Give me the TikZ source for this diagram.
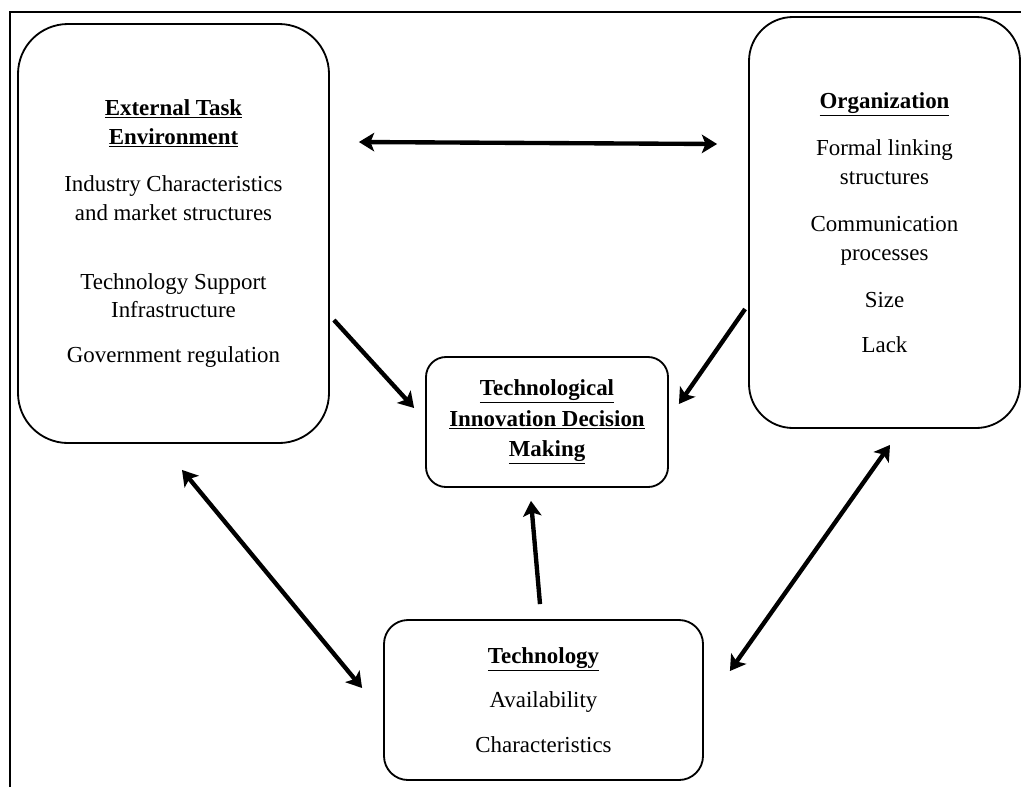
\documentclass[tikz,border=0pt]{standalone}
\usepackage{fontspec}
\setmainfont{Liberation Serif}
\usetikzlibrary{arrows.meta}

\tikzset{
  box/.style={draw, line width=1.3pt, align=center, inner sep=0pt,
    font=\fontsize{16.3}{20.6}\selectfont},
  link/.style={line width=3.1pt, -{Stealth[length=0.38cm, width=0.46cm, inset=0.09cm]}},
  dlink/.style={link, {Stealth[length=0.38cm, width=0.46cm, inset=0.09cm]}-{Stealth[length=0.38cm, width=0.46cm, inset=0.09cm]}}
}

\begin{document}
\begin{tikzpicture}
  \useasboundingbox (0cm,0cm) rectangle (25.525cm,-19.675cm);
  \draw[line width=1.3pt] (0.25cm,-19.675cm) |- (25.525cm,-0.3cm);

  \node[box, rounded corners=1.25cm, minimum width=7.775cm, minimum height=10.475cm] (ext) at (4.3375cm,-5.8375cm)
    {\underline{\textbf{External Task}}\\
     \underline{\textbf{Environment}}\\[13pt]
     Industry Characteristics\\
     and market structures\\[28pt]
     Technology Support\\
     Infrastructure\\[11pt]
     Government regulation};
  \node[box, rounded corners=1.1cm, minimum width=6.775cm, minimum height=10.275cm] (org) at (22.1125cm,-5.5625cm)
    {\underline{\textbf{Organization}}\\[13pt]
     Formal linking\\
     structures\\[13pt]
     Communication\\
     processes\\[13pt]
     Size\\[11pt]
     Lack};
  \node[box, rounded corners=0.5cm, minimum width=6.05cm, minimum height=3.25cm] (dec) at (13.675cm,-10.55cm)
    {\underline{\textbf{Technological}}\\[1pt]
     \underline{\textbf{Innovation Decision}}\\[1pt]
     \underline{\textbf{Making}}};
  \node[box, rounded corners=0.6cm, minimum width=7.975cm, minimum height=4cm] (tech) at (13.5875cm,-17.5cm)
    {\underline{\textbf{Technology}}\\[11pt]
     Availability\\[11pt]
     Characteristics};

  \draw[dlink] ([shift={(0.725cm,2.2875cm)}]ext.east) -- ([shift={(-0.775cm,1.9625cm)}]org.west);
  \draw[link] ([shift={(0.1cm,-2.1625cm)}]ext.east) -- ([shift={(-0.275cm,0.35cm)}]dec.west);
  \draw[link] ([shift={(-0.075cm,-2.1625cm)}]org.west) -- ([shift={(0.25cm,0.45cm)}]dec.east);
  \draw[link] ([shift={(-0.0875cm,0.375cm)}]tech.north) -- ([shift={(-0.4cm,-0.325cm)}]dec.south);
  \draw[dlink] ([shift={(0.2125cm,-0.65cm)}]ext.south) -- ([shift={(-0.525cm,0.3cm)}]tech.west);
  \draw[dlink] ([shift={(0.1375cm,-0.4cm)}]org.south) -- ([shift={(0.65cm,0.725cm)}]tech.east);
\end{tikzpicture}
\end{document}
